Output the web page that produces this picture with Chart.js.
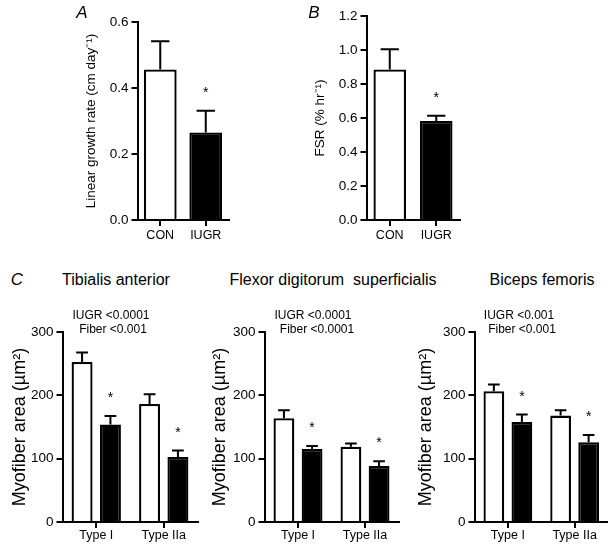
<!DOCTYPE html>
<html>
<head>
<meta charset="utf-8">
<script src="https://cdn.jsdelivr.net/npm/chart.js@4.4.1/dist/chart.umd.min.js"></script>
<style>
  body { margin: 0; background: #fff; }
  #page { position: relative; width: 608px; height: 545px; overflow: hidden; font-family: "Liberation Sans", Arial, Helvetica, sans-serif; color: #000; }
  canvas { position: absolute; }
  .lbl { position: absolute; transform: translate(-50%, -50%); white-space: pre; line-height: 1; }
  .letter { font-style: italic; font-size: 17px; }
  .muscle { font-size: 16px; }
  .stats { font-size: 12px; }
</style>
</head>
<body>
<div id="page">
  <canvas id="chartA" width="200" height="260" style="left:55px;top:0px"></canvas>
  <canvas id="chartB" width="170" height="260" style="left:300px;top:0px"></canvas>
  <canvas id="chartC1" width="205" height="225" style="left:0px;top:320px"></canvas>
  <canvas id="chartC2" width="205" height="225" style="left:205px;top:320px"></canvas>
  <canvas id="chartC3" width="193" height="225" style="left:415px;top:320px"></canvas>

  <div class="lbl letter" style="left:82px;top:12px">A</div>
  <div class="lbl letter" style="left:314px;top:12px">B</div>
  <div class="lbl letter" style="left:17px;top:279px">C</div>

  <div class="lbl muscle" style="left:116px;top:280px">Tibialis anterior</div>
  <div class="lbl muscle" style="left:333px;top:280px">Flexor digitorum  superficialis</div>
  <div class="lbl muscle" style="left:542px;top:280px">Biceps femoris</div>

  <div class="lbl stats" style="left:111px;top:315px">IUGR &lt;0.0001</div>
  <div class="lbl stats" style="left:113px;top:329px">Fiber &lt;0.001</div>
  <div class="lbl stats" style="left:313px;top:315px">IUGR &lt;0.0001</div>
  <div class="lbl stats" style="left:317px;top:329px">Fiber &lt;0.0001</div>
  <div class="lbl stats" style="left:519px;top:315px">IUGR &lt;0.001</div>
  <div class="lbl stats" style="left:522px;top:329px">Fiber &lt;0.001</div>
</div>

<script>
// values (mean and SEM)
const groups = ['CON', 'IUGR'];
const growthRate = [0.456, 0.265];
const growthRateSem = [0.086, 0.066];
const fsrValues = [0.885, 0.583];
const fsrSem = [0.119, 0.030];
const groupSignificant = [false, true];

const fiberTypes = ['Type I', 'Type IIa'];
const tibialisCon = [252.6, 186.4];
const tibialisConSem = [14.9, 15.3];
const tibialisIugr = [153.8, 102.6];
const tibialisIugrSem = [13.6, 10.2];
const flexorCon = [163.8, 119.0];
const flexorConSem = [12.6, 4.8];
const flexorIugr = [115.3, 88.5];
const flexorIugrSem = [4.7, 7.4];
const bicepsCon = [206.5, 168.0];
const bicepsConSem = [10.5, 8.4];
const bicepsIugr = [158.0, 125.9];
const bicepsIugrSem = [11.7, 11.5];
const iugrSignificant = [true, true];

const FONT = '"Liberation Sans", Arial, Helvetica, sans-serif';

// one-sided SEM whiskers plus the significance asterisks
const errorBars = {
  id: 'errorBars',
  afterDatasetsDraw(chart) {
    const ctx = chart.ctx;
    const yScale = chart.scales.y;
    chart.data.datasets.forEach((ds, di) => {
      const meta = chart.getDatasetMeta(di);
      meta.data.forEach((bar, i) => {
        const top = yScale.getPixelForValue(ds.data[i] + ds.sem[i]);
        const half = bar.width * 0.28;
        ctx.save();
        ctx.strokeStyle = '#000';
        ctx.lineWidth = 2;
        ctx.beginPath();
        ctx.moveTo(bar.x, bar.y);
        ctx.lineTo(bar.x, top);
        ctx.moveTo(bar.x - half, top);
        ctx.lineTo(bar.x + half, top);
        ctx.stroke();
        if (ds.sig && ds.sig[i]) {
          ctx.fillStyle = '#000';
          ctx.font = '14px ' + FONT;
          ctx.textAlign = 'center';
          ctx.textBaseline = 'alphabetic';
          ctx.fillText('*', bar.x, top - 14);
        }
        ctx.restore();
      });
    });
  }
};

function makeChart(id, p) {
  const canvas = document.getElementById(id);
  const boxLeft = parseFloat(canvas.style.left);
  const boxTop = parseFloat(canvas.style.top);
  const yWidth = p.area.left - boxLeft;
  const xHeight = boxTop + canvas.height - p.area.bottom;
  const titleLine = p.titleSize * 1.2;

  return new Chart(canvas, {
    type: 'bar',
    data: { labels: p.labels, datasets: p.datasets },
    options: {
      responsive: false,
      animation: false,
      devicePixelRatio: 1,
      layout: {
        padding: {
          left: 0,
          bottom: 0,
          top: p.area.top - boxTop,
          right: boxLeft + canvas.width - p.area.right
        }
      },
      plugins: { legend: { display: false }, tooltip: { enabled: false } },
      datasets: { bar: { categoryPercentage: p.catPct, barPercentage: p.barPct } },
      scales: {
        x: {
          z: 1,
          afterFit: s => { s.height = xHeight; },
          grid: { display: true, drawOnChartArea: false, drawTicks: true, offset: false, tickLength: 6, color: '#000', lineWidth: 2 },
          border: { display: true, color: '#000', width: 2 },
          ticks: { color: '#000', padding: p.xPad, maxRotation: 0, font: { family: FONT, size: p.xSize } }
        },
        y: {
          z: 1,
          min: 0,
          max: p.max,
          afterFit: s => { s.width = yWidth; },
          grid: { display: true, drawOnChartArea: false, drawTicks: true, tickLength: 6, color: '#000', lineWidth: 2 },
          border: { display: true, color: '#000', width: 2 },
          ticks: {
            stepSize: p.step,
            color: '#000',
            padding: 3,
            font: { family: FONT, size: p.ySize },
            callback: v => p.fmt(v)
          },
          title: {
            display: true,
            text: p.title,
            color: '#000',
            font: { family: FONT, size: p.titleSize },
            padding: { top: p.titleX - boxLeft - titleLine / 2, bottom: 0 }
          }
        }
      }
    },
    plugins: [errorBars]
  });
}

function barStyle(fill) {
  return { backgroundColor: fill, borderColor: '#000', borderWidth: 2.3, borderSkipped: 'start' };
}

makeChart('chartA', {
  labels: groups,
  datasets: [Object.assign({ data: growthRate, sem: growthRateSem, sig: groupSignificant }, barStyle(['#fff', '#000']))],
  area: { left: 137.5, top: 22, right: 228.5, bottom: 220 },
  max: 0.6, step: 0.2, fmt: v => v.toFixed(1),
  title: 'Linear growth rate (cm day⁻¹)', titleX: 91, titleSize: 13.5,
  ySize: 13.5, xSize: 12.5, xPad: 2, catPct: 1, barPct: 0.72
});

makeChart('chartB', {
  labels: groups,
  datasets: [Object.assign({ data: fsrValues, sem: fsrSem, sig: groupSignificant }, barStyle(['#fff', '#000']))],
  area: { left: 366.5, top: 16, right: 459.5, bottom: 220 },
  max: 1.2, step: 0.2, fmt: v => v.toFixed(1),
  title: 'FSR (% hr⁻¹)', titleX: 320, titleSize: 13.5,
  ySize: 13.5, xSize: 12.5, xPad: 2, catPct: 1, barPct: 0.7
});

function fiberSets(con, conSem, iugr, iugrSem) {
  return [
    Object.assign({ label: 'CON', data: con, sem: conSem }, barStyle('#fff')),
    Object.assign({ label: 'IUGR', data: iugr, sem: iugrSem, sig: iugrSignificant }, barStyle('#000'))
  ];
}

const fiberCommon = {
  labels: fiberTypes,
  max: 300, step: 100, fmt: v => String(v),
  title: 'Myofiber area (µm²)', titleSize: 18,
  ySize: 13.5, xSize: 12.5, xPad: 0, catPct: 0.84, barPct: 0.74
};

makeChart('chartC1', Object.assign({}, fiberCommon, {
  datasets: fiberSets(tibialisCon, tibialisConSem, tibialisIugr, tibialisIugrSem),
  area: { left: 62.5, top: 332, right: 197.5, bottom: 522 },
  titleX: 20
}));

makeChart('chartC2', Object.assign({}, fiberCommon, {
  datasets: fiberSets(flexorCon, flexorConSem, flexorIugr, flexorIugrSem),
  area: { left: 264.5, top: 332, right: 398.5, bottom: 522 },
  titleX: 220
}));

makeChart('chartC3', Object.assign({}, fiberCommon, {
  datasets: fiberSets(bicepsCon, bicepsConSem, bicepsIugr, bicepsIugrSem),
  area: { left: 474.5, top: 332, right: 608, bottom: 522 },
  titleX: 426
}));
</script>
</body>
</html>
